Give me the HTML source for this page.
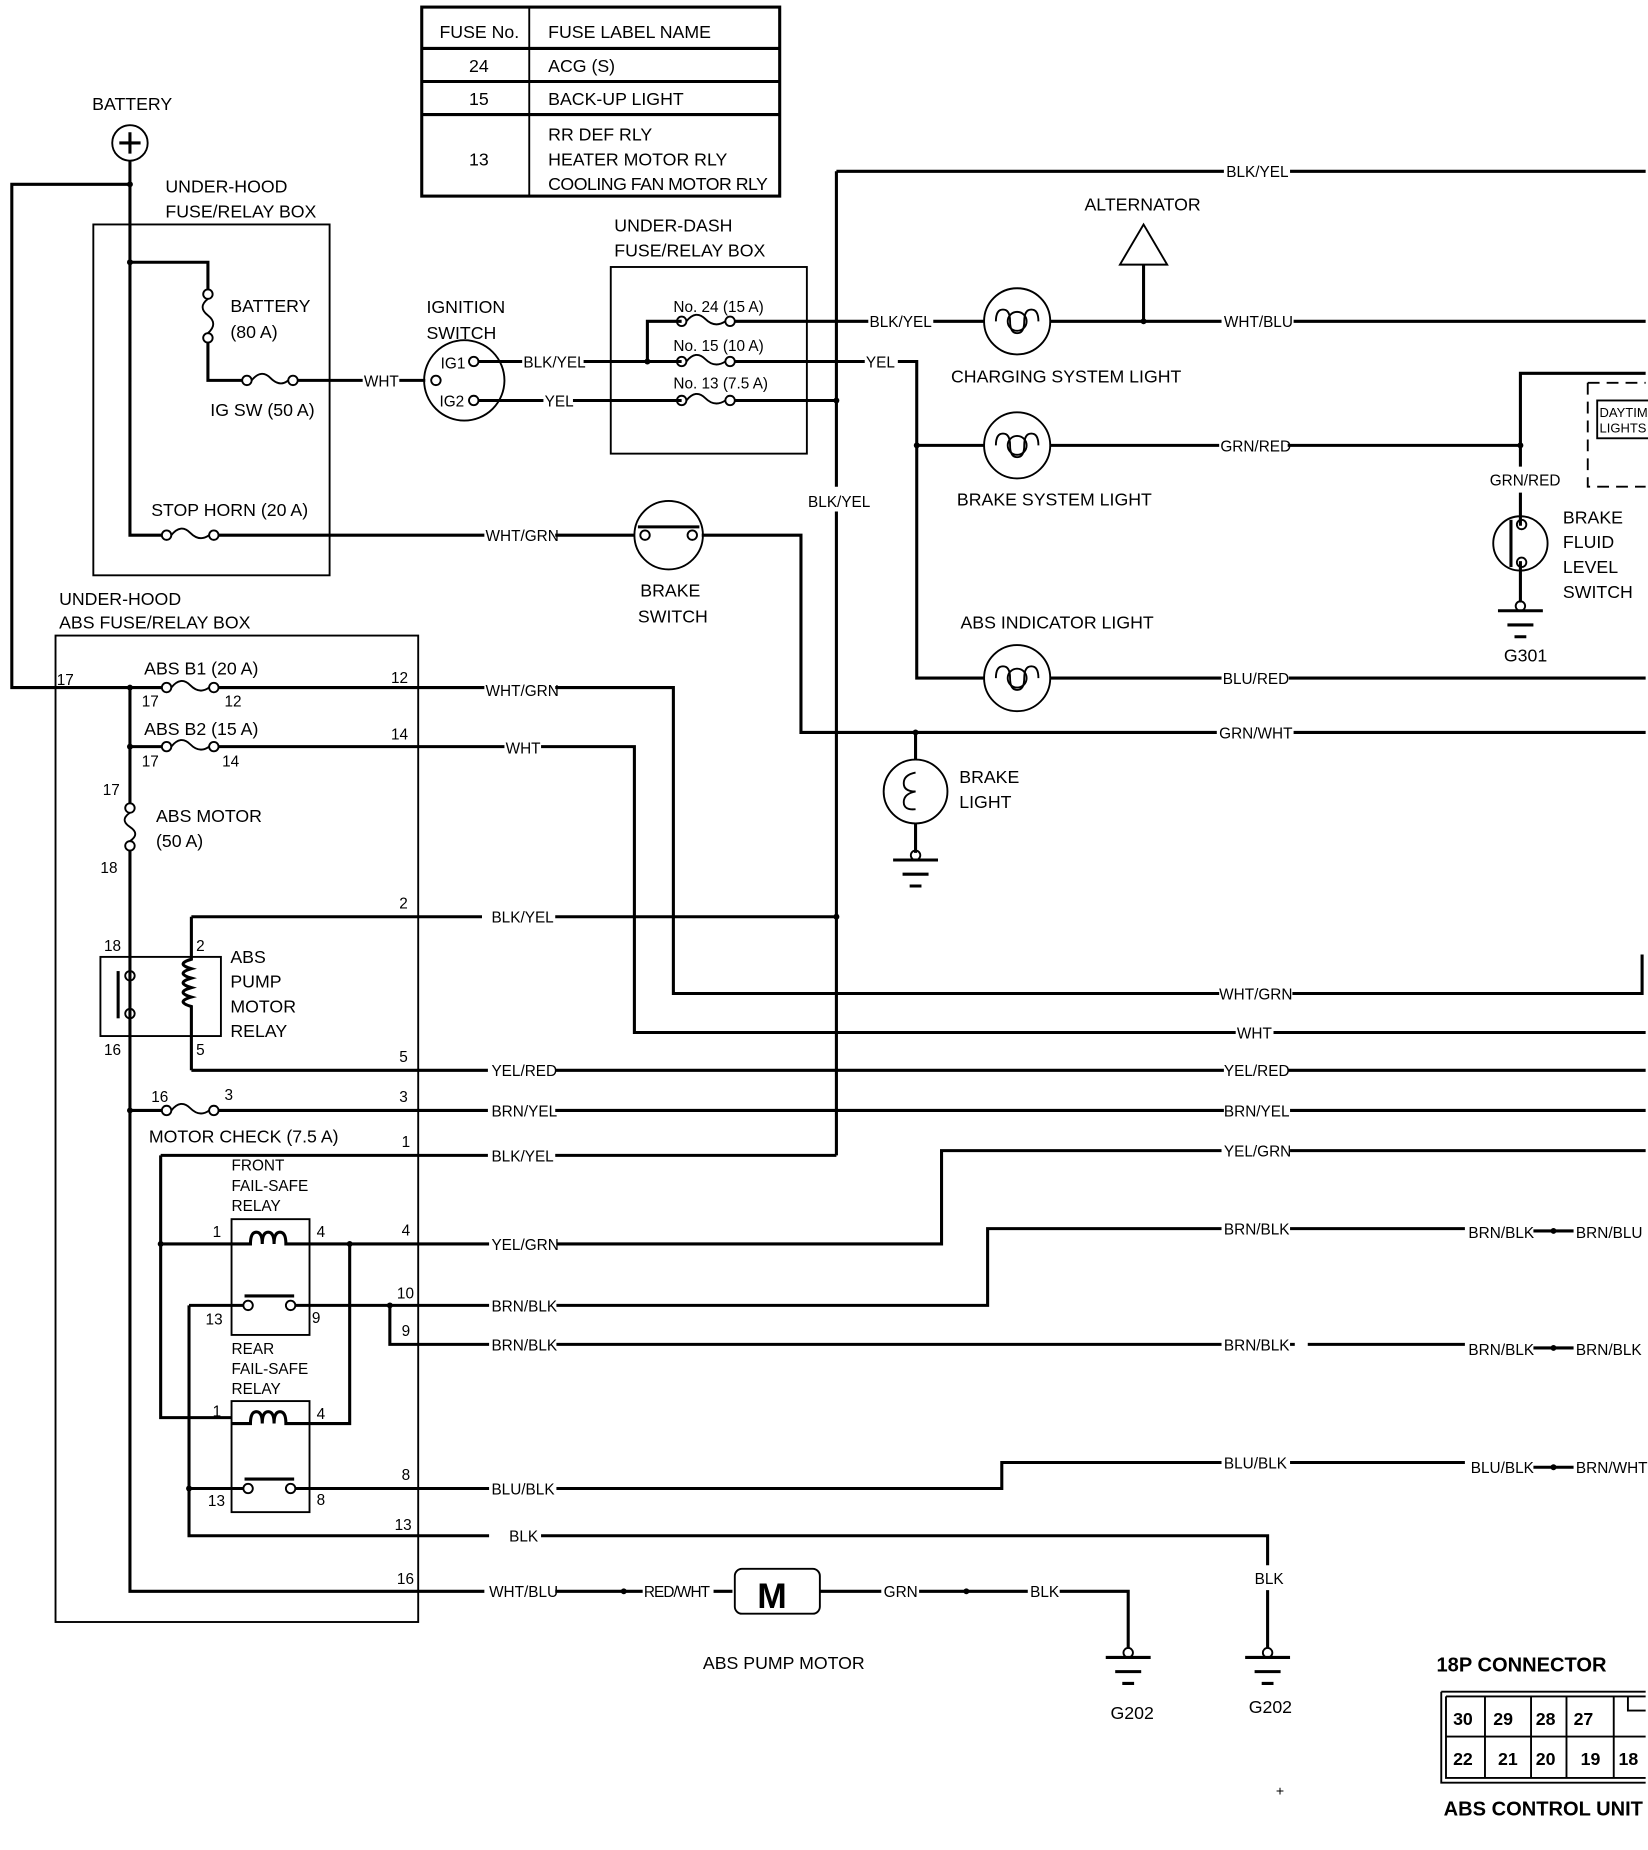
<!DOCTYPE html>
<html><head><meta charset="utf-8"><style>
html,body{margin:0;padding:0;background:#fff;}
svg{display:block;}
text{font-family:"Liberation Sans Narrow","Liberation Sans",sans-serif;font-size:15px;fill:#000;}
.w{stroke:#000;stroke-width:2.6;fill:none;}
.t{stroke:#000;stroke-width:1.6;fill:none;}
.lb{font-size:13px;}
</style></head><body>
<svg width="1648" height="1850" viewBox="0 0 1395 1566" preserveAspectRatio="none" xmlns="http://www.w3.org/2000/svg">
<rect width="1395" height="1566" fill="#fff"/>
<rect x="357" y="6" width="303" height="160" class="w"/>
<line x1="448" y1="6" x2="448" y2="166" class="t"/>
<line x1="357" y1="41" x2="660" y2="41" class="w"/>
<line x1="357" y1="69" x2="660" y2="69" class="w"/>
<line x1="357" y1="97" x2="660" y2="97" class="w"/>
<text x="372" y="32">FUSE No.</text><text x="464" y="32">FUSE LABEL NAME</text>
<text x="397" y="61">24</text><text x="464" y="61">ACG (S)</text>
<text x="397" y="89">15</text><text x="464" y="89">BACK-UP LIGHT</text>
<text x="397" y="140">13</text><text x="464" y="119">RR DEF RLY</text><text x="464" y="140">HEATER MOTOR RLY</text><text x="464" y="161" textLength="186">COOLING FAN MOTOR RLY</text>

<text x="78" y="93">BATTERY</text>
<circle cx="110" cy="121" r="15" class="t"/>
<path d="M101 121h18M110 112v18" class="w"/>
<path d="M110 136V453H137M110 156H10V582H137M110 222H176V245M176 290V322H205" class="w"/>
<circle cx="110" cy="156" r="2.5"/><circle cx="110" cy="222" r="2.5"/>
<rect x="79" y="190" width="200" height="297" class="t"/>
<text x="140" y="163">UNDER-HOOD</text><text x="140" y="184">FUSE/RELAY BOX</text>
<circle cx="176" cy="249" r="4" class="t"/><circle cx="176" cy="286" r="4" class="t"/>
<path d="M176 253q-9 7 0 14t0 15" class="t"/>
<text x="195" y="264">BATTERY</text><text x="195" y="286">(80 A)</text>
<circle cx="209" cy="322" r="4" class="t"/><circle cx="248" cy="322" r="4" class="t"/>
<path d="M213 322q8 -10 16 -2t15 2" class="t"/>
<path d="M252 322H307M338 322H360" class="w"/>
<text x="308" y="327" class="lb">WHT</text>
<text x="178" y="352">IG SW (50 A)</text>
<circle cx="141" cy="453" r="4" class="t"/><circle cx="181" cy="453" r="4" class="t"/>
<path d="M145 453q8 -10 16 -2t16 2" class="t"/>
<text x="128" y="437">STOP HORN (20 A)</text>
<path d="M185 453H410M470 453H537M594 453H678V620H1030M1095 620H1393" class="w"/>
<text x="411" y="458" class="lb">WHT/GRN</text>
<circle cx="566" cy="453" r="29" class="t"/>
<circle cx="546" cy="453" r="4" class="t"/><circle cx="586" cy="453" r="4" class="t"/>
<path d="M540 446h52" class="w"/>
<text x="542" y="505">BRAKE</text><text x="540" y="527">SWITCH</text>
<text x="1032" y="625" class="lb">GRN/WHT</text>

<text x="361" y="265">IGNITION</text><text x="361" y="287">SWITCH</text>
<circle cx="393" cy="322" r="34" class="t"/>
<text x="373" y="312" class="lb">IG1</text><text x="372" y="344" class="lb">IG2</text>
<circle cx="401" cy="306" r="4" class="t"/><circle cx="401" cy="339" r="4" class="t"/><circle cx="369" cy="322" r="4" class="t"/>
<path d="M405 306H442M494 306H577M405 339H460M485 339H577M548 306V272H577" class="w"/>
<circle cx="548" cy="306" r="2.5"/>
<text x="443" y="311" class="lb">BLK/YEL</text><text x="461" y="344" class="lb">YEL</text>
<rect x="517" y="226" width="166" height="158" class="t"/>
<text x="520" y="196">UNDER-DASH</text><text x="520" y="217">FUSE/RELAY BOX</text>
<g class="t">
<circle cx="577" cy="272" r="4"/><circle cx="618" cy="272" r="4"/><path d="M581 272q8-10 16-2t17 2"/>
<circle cx="577" cy="306" r="4"/><circle cx="618" cy="306" r="4"/><path d="M581 306q8-10 16-2t17 2"/>
<circle cx="577" cy="339" r="4"/><circle cx="618" cy="339" r="4"/><path d="M581 339q8-10 16-2t17 2"/>
</g>
<text x="570" y="264" class="lb">No. 24 (15 A)</text><text x="570" y="297" class="lb">No. 15 (10 A)</text><text x="570" y="329" class="lb">No. 13 (7.5 A)</text>
<path d="M622 272H735M790 272H833M889 272H1034M1095 272H1393" class="w"/>
<text x="736" y="277" class="lb">BLK/YEL</text><text x="1036" y="277" class="lb">WHT/BLU</text>
<path d="M622 306H732M760 306H776V574H833M889 574H1034M1091 574H1393" class="w"/>
<text x="733" y="311" class="lb">YEL</text><text x="1035" y="579" class="lb">BLU/RED</text>
<path d="M622 339H708M708 145V412M708 433V978M708 145H1036M1092 145H1393" class="w"/>
<circle cx="708" cy="339" r="2.5"/>
<text x="684" y="429" class="lb">BLK/YEL</text><text x="1038" y="150" class="lb">BLK/YEL</text>
<path d="M968 190L948 224H988Z" class="t"/><path d="M968 224V272" class="w"/><circle cx="968" cy="272" r="2.5"/>
<text x="918" y="178">ALTERNATOR</text>
<g class="t">
<circle cx="861" cy="272" r="28"/><circle cx="861" cy="377" r="28"/><circle cx="861" cy="574" r="28"/>
</g>
<path d="M843 272q0-10 6-10t6 10t6 10t6-10t6-10t6 10M843 377q0-10 6-10t6 10t6 10t6-10t6-10t6 10M843 574q0-10 6-10t6 10t6 10t6-10t6-10t6 10" class="t"/>
<g class="t"><circle cx="861" cy="272" r="8"/><circle cx="861" cy="377" r="8"/><circle cx="861" cy="574" r="8"/></g>
<text x="805" y="324">CHARGING SYSTEM LIGHT</text>
<text x="810" y="428">BRAKE SYSTEM LIGHT</text>
<text x="813" y="532">ABS INDICATOR LIGHT</text>
<path d="M776 377H833M889 377H1032M1090 377H1287V316H1393M1287 377V395M1287 417V445M1287 475V510" class="w"/>
<circle cx="776" cy="377" r="2.5"/><circle cx="1287" cy="377" r="2.5"/>
<text x="1033" y="382" class="lb">GRN/RED</text><text x="1261" y="411" class="lb">GRN/RED</text>
<circle cx="1287" cy="460" r="23" class="t"/><circle cx="1288" cy="444" r="4" class="t"/><circle cx="1288" cy="476" r="4" class="t"/>
<path d="M1279 440V480" class="w"/>
<circle cx="1287" cy="513" r="4" class="t"/><path d="M1268 517h38M1276 529h22M1282 539h10" class="w"/>
<text x="1273" y="560">G301</text>
<text x="1323" y="443">BRAKE</text><text x="1323" y="464">FLUID</text><text x="1323" y="485">LEVEL</text><text x="1323" y="506">SWITCH</text>
<path d="M1344 324H1393M1344 324V412H1393" stroke="#000" stroke-width="1.6" stroke-dasharray="10 6" fill="none"/>
<rect x="1352" y="339" width="45" height="32" class="t"/>
<text x="1354" y="353" style="font-size:11px">DAYTIM</text><text x="1354" y="366" style="font-size:11px">LIGHTS</text>
<circle cx="775" cy="620" r="2.5"/>
<path d="M775 620V643M775 697V722" class="w"/>
<circle cx="775" cy="670" r="27" class="t"/>
<path d="M775 654q-10 2-10 9t10 7q-10 2-10 9t10 6" class="t"/>
<circle cx="775" cy="724" r="4" class="t"/><path d="M756 728h38M764 740h22M770 750h10" class="w"/>
<text x="812" y="663">BRAKE</text><text x="812" y="684">LIGHT</text>

<rect x="47" y="538" width="307" height="835" class="t"/>
<text x="50" y="512">UNDER-HOOD</text><text x="50" y="532">ABS FUSE/RELAY BOX</text>
<text x="48" y="580" class="lb">17</text>
<path d="M110 582V680M110 720V1347H410M470 1347H544" class="w"/>
<circle cx="110" cy="582" r="2.5"/><circle cx="110" cy="632" r="2.5"/>
<g class="t"><circle cx="141" cy="582" r="4"/><circle cx="181" cy="582" r="4"/><path d="M145 582q8-10 16-2t16 2"/>
<circle cx="141" cy="632" r="4"/><circle cx="181" cy="632" r="4"/><path d="M145 632q8-10 16-2t16 2"/>
<circle cx="110" cy="684" r="4"/><circle cx="110" cy="716" r="4"/><path d="M110 688q-9 6 0 12t0 12"/>
<circle cx="141" cy="940" r="4"/><circle cx="181" cy="940" r="4"/><path d="M145 940q8-10 16-2t16 2"/></g>
<text x="122" y="571">ABS B1 (20 A)</text><text x="120" y="598" class="lb">17</text><text x="190" y="598" class="lb">12</text><text x="331" y="578" class="lb">12</text>
<path d="M110 632H137M185 582H410M470 582H570V841H1032M1094 841H1390V808" class="w"/>
<text x="411" y="589" class="lb">WHT/GRN</text><text x="1032" y="846" class="lb">WHT/GRN</text>
<text x="122" y="622">ABS B2 (15 A)</text><text x="120" y="649" class="lb">17</text><text x="188" y="649" class="lb">14</text><text x="331" y="626" class="lb">14</text>
<path d="M185 632H427M458 632H537V874H1046M1078 874H1393" class="w"/>
<text x="428" y="638" class="lb">WHT</text><text x="1047" y="879" class="lb">WHT</text>
<text x="87" y="673" class="lb">17</text><text x="132" y="696">ABS MOTOR</text><text x="132" y="717">(50 A)</text><text x="85" y="739" class="lb">18</text>
<rect x="85" y="810" width="102" height="67" class="t"/>
<text x="88" y="805" class="lb">18</text><text x="166" y="805" class="lb">2</text><text x="88" y="893" class="lb">16</text><text x="166" y="893" class="lb">5</text>
<circle cx="110" cy="826" r="4" class="t"/><circle cx="110" cy="858" r="4" class="t"/><path d="M100 822V862" class="w"/>
<path d="M162 776V812q-14 4 0 8q-14 4 0 8q-14 4 0 8q-14 4 0 8q-14 4 0 8V906" class="w"/>
<path d="M162 776H408M470 776H708" class="w"/><circle cx="708" cy="776" r="2.5"/>
<text x="338" y="769" class="lb">2</text><text x="416" y="781" class="lb">BLK/YEL</text>
<text x="195" y="815">ABS</text><text x="195" y="836">PUMP</text><text x="195" y="857">MOTOR</text><text x="195" y="878">RELAY</text>
<path d="M162 906H413M470 906H1036M1090 906H1393" class="w"/>
<text x="338" y="899" class="lb">5</text><text x="416" y="911" class="lb">YEL/RED</text><text x="1036" y="911" class="lb">YEL/RED</text>
<circle cx="110" cy="940" r="2.5"/>
<path d="M110 940H137M185 940H413M470 940H1036M1092 940H1393" class="w"/>
<text x="128" y="933" class="lb">16</text><text x="190" y="931" class="lb">3</text><text x="338" y="933" class="lb">3</text>
<text x="416" y="945" class="lb">BRN/YEL</text><text x="1036" y="945" class="lb">BRN/YEL</text>
<text x="126" y="967">MOTOR CHECK (7.5 A)</text>
<text x="340" y="971" class="lb">1</text>
<path d="M136 978H413M470 978H708M136 978V1200H196" class="w"/>
<text x="416" y="983" class="lb">BLK/YEL</text>
<text x="196" y="991" class="lb">FRONT</text><text x="196" y="1008" class="lb">FAIL-SAFE</text><text x="196" y="1025" class="lb">RELAY</text>
<rect x="196" y="1032" width="66" height="98" class="t"/>
<path d="M136 1053H212q0-10 5-10t5 10q0-10 5-10t5 10q0-10 5-10t5 10H414M471 1053H797V974H1034M1092 974H1393" class="w"/>
<circle cx="136" cy="1053" r="2.5"/>
<text x="180" y="1047" class="lb">1</text><text x="268" y="1047" class="lb">4</text><text x="340" y="1046" class="lb">4</text>
<text x="416" y="1058" class="lb">YEL/GRN</text><text x="1036" y="979" class="lb">YEL/GRN</text>
<circle cx="210" cy="1105" r="4" class="t"/><circle cx="246" cy="1105" r="4" class="t"/><path d="M207 1097h42" class="w"/>
<path d="M160 1105H206M250 1105H414M471 1105H836V1040H1034M1092 1040H1240M160 1105V1300H414M458 1300H1073V1325M1073 1346V1395" class="w"/>
<path d="M296 1053V1205H262M330 1105V1138H414M471 1138H1034M1092 1138H1096M1107 1138H1240" class="w"/>
<circle cx="296" cy="1053" r="2.5"/><circle cx="330" cy="1105" r="2.5"/>
<text x="174" y="1121" class="lb">13</text><text x="264" y="1120" class="lb">9</text><text x="336" y="1099" class="lb">10</text><text x="340" y="1131" class="lb">9</text>
<text x="416" y="1110" class="lb">BRN/BLK</text><text x="416" y="1143" class="lb">BRN/BLK</text>
<text x="1036" y="1045" class="lb">BRN/BLK</text><text x="1036" y="1143" class="lb">BRN/BLK</text>
<text x="1243" y="1048" class="lb">BRN/BLK</text><circle cx="1315" cy="1042" r="2.5"/><path d="M1298 1042H1332" class="w"/><text x="1334" y="1048" class="lb">BRN/BLU</text>
<text x="1243" y="1147" class="lb">BRN/BLK</text><circle cx="1315" cy="1141" r="2.5"/><path d="M1298 1141H1332" class="w"/><text x="1334" y="1147" class="lb">BRN/BLK</text>
<text x="196" y="1146" class="lb">REAR</text><text x="196" y="1163" class="lb">FAIL-SAFE</text><text x="196" y="1180" class="lb">RELAY</text>
<rect x="196" y="1186" width="66" height="94" class="t"/>
<path d="M196 1205H212q0-10 5-10t5 10q0-10 5-10t5 10q0-10 5-10t5 10H262" class="w"/>
<text x="180" y="1199" class="lb">1</text><text x="268" y="1201" class="lb">4</text>
<circle cx="210" cy="1260" r="4" class="t"/><circle cx="246" cy="1260" r="4" class="t"/><path d="M207 1252h42" class="w"/>
<path d="M160 1260H206M250 1260H414M471 1260H848V1238H1034M1092 1238H1240" class="w"/>
<circle cx="160" cy="1260" r="2.5"/>
<text x="176" y="1275" class="lb">13</text><text x="268" y="1274" class="lb">8</text><text x="340" y="1253" class="lb">8</text>
<text x="416" y="1265" class="lb">BLU/BLK</text><text x="1036" y="1243" class="lb">BLU/BLK</text>
<text x="1245" y="1247" class="lb">BLU/BLK</text><circle cx="1315" cy="1242" r="2.5"/><path d="M1298 1242H1332" class="w"/><text x="1334" y="1247" class="lb">BRN/WHT</text>
<text x="334" y="1295" class="lb">13</text><text x="431" y="1305" class="lb">BLK</text>
<text x="1062" y="1341" class="lb">BLK</text>
<circle cx="1073" cy="1399" r="4" class="t"/><path d="M1054 1403h38M1062 1415h22M1068 1425h10" class="w"/>
<text x="1057" y="1450">G202</text>
<text x="336" y="1341" class="lb">16</text><text x="414" y="1352" class="lb">WHT/BLU</text>
<circle cx="528" cy="1347" r="2.5"/><text x="545" y="1352" class="lb" textLength="56">RED/WHT</text>
<path d="M604 1347H620" class="w"/>
<rect x="622" y="1328" width="72" height="38" rx="6" class="t" stroke-width="2.6"/>
<text x="641" y="1361" style="font-size:30px;font-weight:bold">M</text>
<path d="M694 1347H746M778 1347H870M897 1347H955V1395" class="w"/>
<text x="748" y="1352" class="lb">GRN</text><circle cx="818" cy="1347" r="2.5"/><text x="872" y="1352" class="lb">BLK</text>
<circle cx="955" cy="1399" r="4" class="t"/><path d="M936 1403h38M944 1415h22M950 1425h10" class="w"/>
<text x="940" y="1455">G202</text>
<text x="595" y="1413">ABS PUMP MOTOR</text>
<text x="1216" y="1415" style="font-size:17px;font-weight:bold;font-family:'Liberation Sans',sans-serif">18P CONNECTOR</text>
<path d="M1220 1432H1393M1220 1432V1509H1393M1224 1436H1393M1224 1436V1505H1393M1224 1470H1393" class="t"/>
<path d="M1257 1436V1505M1296 1436V1505M1326 1436V1505M1366 1436V1505M1378 1436V1448H1393" class="t"/>
<g style="font-size:14px;font-weight:bold;font-family:'Liberation Mono',monospace">
<text x="1230" y="1460">30</text><text x="1264" y="1460">29</text><text x="1300" y="1460">28</text><text x="1332" y="1460">27</text>
<text x="1230" y="1494">22</text><text x="1268" y="1494">21</text><text x="1300" y="1494">20</text><text x="1338" y="1494">19</text><text x="1370" y="1494">18</text>
</g>
<text x="1222" y="1537" style="font-size:17px;font-weight:bold;font-family:'Liberation Sans',sans-serif">ABS CONTROL UNIT</text>
<text x="1080" y="1520" style="font-size:12px">+</text>
</svg>
</body></html>
